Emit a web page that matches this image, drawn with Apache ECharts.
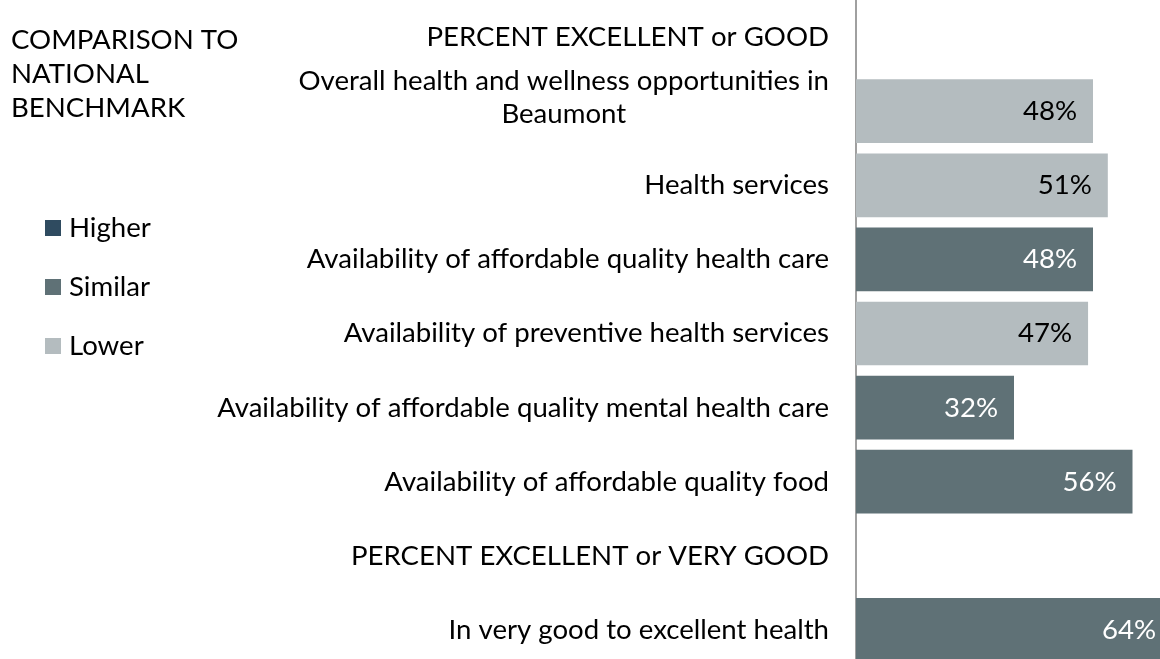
<!DOCTYPE html>
<html>
<head>
<meta charset="utf-8">
<script src="https://cdn.jsdelivr.net/npm/echarts@6/dist/echarts.min.js"></script>
<style>
html, body { margin: 0; padding: 0; background: #fff; overflow: hidden; }
/* the last bar runs past the right and bottom edges of the picture */
#chart { width: 1172px; height: 667px; }
</style>
</head>
<body>
<div id="chart"></div>
<script>
// rows, top to bottom (the two PERCENT rows are headings with no bar)
const categories = [
  'PERCENT EXCELLENT or GOOD',
  'Overall health and wellness opportunities in\nBeaumont',
  'Health services',
  'Availability of affordable quality health care',
  'Availability of preventive health services',
  'Availability of affordable quality mental health care',
  'Availability of affordable quality food',
  'PERCENT EXCELLENT or VERY GOOD',
  'In very good to excellent health'
];
const values = [null, 48, 51, 48, 47, 32, 56, null, 64];
const benchmark = ['', 'Lower', 'Lower', 'Similar', 'Lower', 'Similar', 'Similar', '', 'Similar'];
const levels = ['Higher', 'Similar', 'Lower'];

const levelColors = ['#2f4b60', '#5f7176', '#b4bcbf'];
const labelColors = ['#fff', '#fff', '#000'];

// size the font so the longest label is as wide as in the picture
const FONT = 'Lato';
const ctx = document.createElement('canvas').getContext('2d');
ctx.font = '100px ' + FONT;
const fs = Math.round(100 * 611 / ctx.measureText(categories[5]).width * 10) / 10;

const series = levels.map((lv, i) => ({
  name: lv,
  type: 'bar',
  stack: 'all',
  barCategoryGap: '14%',
  data: values.map((v, j) => (benchmark[j] === lv ? v : '-')),
  itemStyle: { color: levelColors[i] },
  label: {
    show: true,
    position: 'insideRight',
    distance: 16,
    formatter: '{c}%',
    color: labelColors[i],
    fontFamily: FONT,
    fontSize: fs
  }
}));

const myChart = echarts.init(document.getElementById('chart'), null, { renderer: 'canvas' });
myChart.setOption({
  backgroundColor: '#fff',
  animation: false,
  title: {
    text: 'COMPARISON TO\nNATIONAL\nBENCHMARK',
    left: 11,
    top: 23,
    padding: 0,
    textStyle: { fontFamily: FONT, fontSize: fs, fontWeight: 'normal', color: '#000', lineHeight: 34 }
  },
  legend: {
    orient: 'vertical',
    left: 45,
    top: 213,
    padding: 0,
    icon: 'rect',
    itemWidth: 16,
    itemHeight: 16,
    itemGap: 29,
    data: levels,
    textStyle: { fontFamily: FONT, fontSize: fs, color: '#000', lineHeight: 30, padding: [0, 0, 0, 3] }
  },
  grid: { left: 856, right: 0, top: 0, bottom: 0 },
  xAxis: { type: 'value', min: 0, max: 64, show: false },
  yAxis: {
    type: 'category',
    inverse: true,
    data: categories,
    axisTick: { show: false },
    axisLine: { show: true, lineStyle: { color: '#a0a0a0', width: 2 } },
    axisLabel: {
      interval: 0,
      color: '#000',
      fontFamily: FONT,
      fontSize: fs,
      margin: 27,
      lineHeight: 33,
      formatter: v => v.indexOf('\n') < 0 ? v
        : v.split('\n').map(s => '{c|' + s + '}').join('\n') + '\n{e| }',
      rich: {
        c: { align: 'center', fontFamily: FONT, fontSize: fs, lineHeight: 33, color: '#000' },
        e: { fontFamily: FONT, fontSize: fs, lineHeight: 27 }
      }
    }
  },
  series: series
});
</script>
</body>
</html>
